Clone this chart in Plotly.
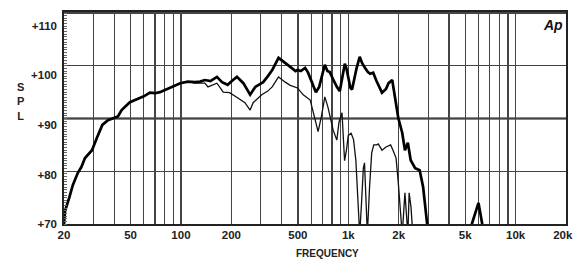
import plotly.graph_objects as go
import numpy as np

# ---- data ----
freq_on = [20, 20.3, 21.5, 22.6, 24.2, 25.4, 26.7, 28, 29.4, 31.6, 33.9, 36.6, 40.3, 42, 44.2, 49.5,
           56.7, 60, 65.2, 70, 74.9, 80, 86, 92, 99, 110, 121, 130, 139, 150, 164, 176, 190, 203,
           216, 236, 259, 278, 310, 330, 351, 383, 400, 420, 450, 484, 496, 520, 552, 575, 610,
           640, 670, 700, 724, 750, 775, 810, 854, 890, 920, 953, 975, 1000, 1030, 1053, 1090,
           1120, 1170, 1210, 1260, 1310, 1350, 1409, 1470, 1540, 1590, 1680, 1740, 1830, 1900,
           1990, 2100, 2180, 2270, 2360, 2510, 2670, 2800, 2960, 3050, 5300, 5474, 6000, 6316,
           6500, 20000]
spl_on = [70.0, 72.5, 75.0, 77.4, 79.7, 80.8, 82.5, 83.3, 84.0, 86.5, 88.8, 89.7, 90.1, 90.4, 91.6, 93.1,
          93.9, 94.2, 94.9, 94.8, 95.0, 95.4, 95.8, 96.3, 96.7, 97.0, 96.9, 97.0, 97.3, 97.1, 97.9, 96.9, 96.4, 97.2,
          97.9, 96.7, 94.5, 96.0, 96.9, 98.0, 99.2, 101.5, 101.0, 100.6, 99.8, 99.0, 99.2, 99.0, 99.6, 98.7, 96.5,
          95.0, 96.0, 98.5, 100.2, 99.0, 98.8, 97.5, 96.0, 95.2, 98.0, 100.4, 99.5, 98.0, 95.8, 95.5, 97.9,
          99.5, 101.7, 100.5, 99.6, 98.8, 98.5, 98.7, 97.2, 95.8, 94.9, 95.6, 96.7, 97.3, 94.1,
          90.1, 87.3, 84.0, 85.4, 82.1, 80.6, 80.2, 77.0, 70.0, 62, 62, 70.0, 74.0, 70.0,
          62, 62]

freq_off = [20, 20.3, 21.5, 22.6, 24.2, 25.4, 26.7, 28, 29.4, 31.6, 33.9, 36.6, 40.3, 42, 44.2, 49.5,
            56.7, 60, 65.2, 70, 74.9, 80, 86, 92, 99, 110, 121, 130, 139, 145, 155, 164, 179, 195,
            219, 241, 259, 270, 304, 330, 351, 383, 420, 450, 497, 538, 592, 635, 660, 690, 724,
            755, 812, 854, 880, 917, 935, 950, 975, 1000, 1040, 1075, 1110, 1140, 1170, 1200,
            1230, 1250, 1275, 1300, 1340, 1380, 1420, 1480, 1510, 1590, 1680, 1790, 1850, 1930,
            1990, 2100, 2180, 2240, 2270, 2310, 2370, 2430, 2500]
spl_off = [70.0, 72.5, 75.0, 77.4, 79.7, 80.8, 82.5, 83.3, 84.0, 86.5, 88.8, 89.7, 90.1, 90.4, 91.6, 93.1,
           93.9, 94.2, 94.9, 94.8, 95.0, 95.4, 95.8, 96.3, 96.7, 97.0, 96.7, 96.7, 96.7, 96.0, 96.3, 96.7, 95.0, 94.9,
           93.9, 93.0, 91.6, 93.0, 94.5, 95.2, 96.0, 97.9, 96.9, 96.3, 95.8, 94.5, 93.5, 89.7, 87.5, 90.3, 94.1,
           92.2, 87.8, 85.9, 89.3, 91.1, 86.0, 82.0, 84.0, 86.8, 87.2, 86.0, 82.0, 76.0, 68, 74.0,
           80.6, 81.6, 76.0, 68, 77.0, 83.5, 85.0, 85.0, 85.2, 84.0, 84.6, 85.0, 84.0, 82.5,
           77.8, 68, 75.9, 72.0, 68, 75.9, 73.2, 68, 62]

grid_freqs = [20, 30, 40, 50, 60, 70, 80, 90, 100, 200, 300, 400, 500, 600, 700, 800, 900,
              1000, 2000, 3000, 4000, 5000, 6000, 7000, 8000, 9000, 10000, 20000]
x_labels = {20: "20", 50: "50", 100: "100", 200: "200", 500: "500", 1000: "1k",
            2000: "2k", 5000: "5k", 10000: "10k", 20000: "20k\u00a0\u00a0"}
y_ticks = [70, 80, 90, 100, 110]
y_ticktext = ["+70", "+80", "+90", "+100", "+110"]

# ---- figure ----
fig = go.Figure()
fig.add_trace(go.Scatter(x=freq_off, y=spl_off, mode="lines",
                         line=dict(color="#111", width=1.3), showlegend=False, hoverinfo="skip"))
fig.add_trace(go.Scatter(x=freq_on, y=spl_on, mode="lines",
                         line=dict(color="#000", width=2.7), showlegend=False, hoverinfo="skip"))
# invisible trace to host the label axis
fig.add_trace(go.Scatter(x=[20], y=[70], yaxis="y2", mode="markers",
                         marker=dict(opacity=0), showlegend=False, hoverinfo="skip"))

tickfont = dict(family="Liberation Sans, Arial, sans-serif", size=11.5, color="#222", weight="bold")

fig.update_layout(
    width=574, height=259,
    margin=dict(l=64, r=8, t=12, b=35),
    paper_bgcolor="white", plot_bgcolor="white",
    xaxis=dict(type="log", range=[np.log10(20) - 1e-6, np.log10(20000) + 1e-6],
               tickvals=grid_freqs,
               ticktext=[x_labels.get(f, "") for f in grid_freqs],
               showgrid=True, gridcolor="#444", gridwidth=1.2,
               showline=True, linecolor="#222", linewidth=1.6, mirror=True,
               ticks="", tickfont=tickfont, zeroline=False, automargin=False,
               ticklabeloverflow="allow"),
    yaxis=dict(range=[70, 110.2], tickvals=y_ticks, showticklabels=False,
               showgrid=True, gridcolor="#444", gridwidth=1.2,
               showline=True, linecolor="#222", linewidth=1.6, mirror=True,
               ticks="", zeroline=False, automargin=False,
               minor=dict(ticks="inside", ticklen=3, dtick=0.5, tickcolor="#666",
                          tickwidth=1, showgrid=False)),
    yaxis2=dict(overlaying="y", side="left", range=[70, 112.8],
                tickvals=y_ticks, ticktext=y_ticktext, showgrid=False,
                showline=False, zeroline=False, ticks="", tickfont=tickfont,
                ticklabelstandoff=6, automargin=False, ticklabeloverflow="allow"),
    shapes=[dict(type="line", xref="paper", yref="y", x0=0, x1=1, y0=90, y1=90,
                 line=dict(color="#111", width=2), layer="below")],
    annotations=[
        dict(text="<b>S<br>P<br>L</b>", xref="paper", yref="paper", x=-0.098, y=0.58,
             showarrow=False, font=dict(family="Liberation Sans, Arial", size=11, color="#222"),
             align="center"),
        dict(text="<b>FREQUENCY</b>", xref="paper", yref="paper", x=0.524, y=-0.137,
             showarrow=False, yanchor="middle",
             font=dict(family="Liberation Sans, Arial", size=10, color="#222")),
        dict(text="<b><i>Ap</i></b>", xref="paper", yref="paper", x=0.998, y=0.985,
             xanchor="right", yanchor="top", showarrow=False,
             font=dict(family="Liberation Sans, Arial", size=14, color="#111")),
    ],
)

fig.write_html("out.html", config={"displayModeBar": False, "staticPlot": True},
               post_script="document.body.style.margin='0';document.body.style.overflow='hidden';")
